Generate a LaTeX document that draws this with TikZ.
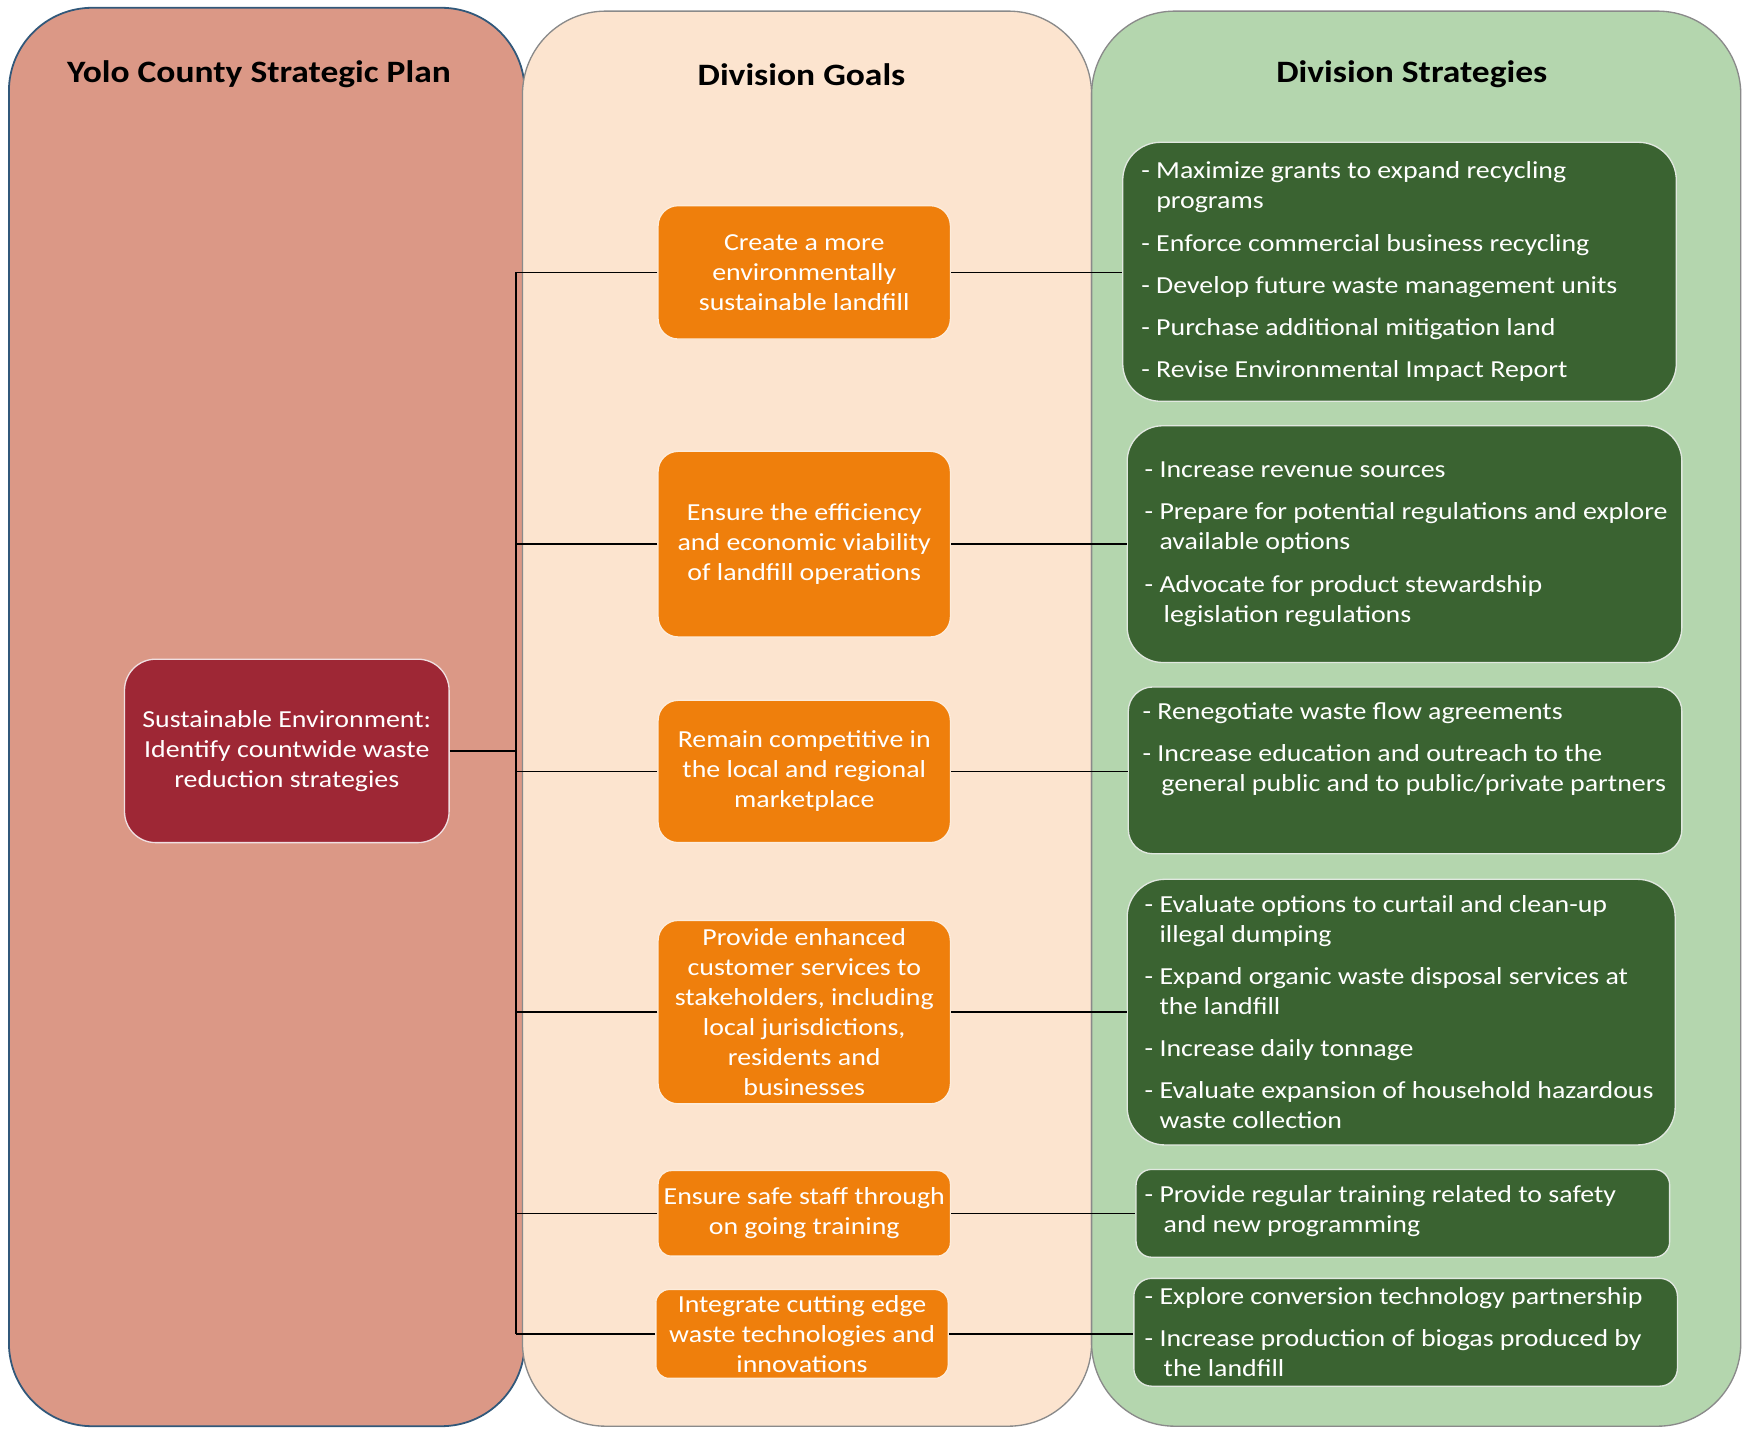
\documentclass[tikz,border=0pt]{standalone}
\usepackage{fontspec}
\setmainfont[FakeStretch=1.14]{Carlito}
\definecolor{leftc}{HTML}{DB9886}
\definecolor{leftline}{HTML}{31587A}
\definecolor{midc}{HTML}{FCE4CF}
\definecolor{rightc}{HTML}{B4D6AE}
\definecolor{colline}{HTML}{8A8A8A}
\definecolor{goalc}{HTML}{EF7F0C}
\definecolor{planc}{HTML}{9E2735}
\definecolor{stratc}{HTML}{3A6331}
\begin{document}
\begin{tikzpicture}[x=0.5pt,y=-0.5pt,
  col/.style={rounded corners=37.5pt, line width=0.6pt},
  head/.style={font=\fontsize{14}{16}\selectfont\bfseries, text=black, inner sep=0pt},
  goal/.style={fill=goalc, draw=white!85!goalc, line width=0.6pt, text=white, align=center,
    font=\fontsize{11}{13.5}\selectfont, inner sep=1pt, minimum width=131.5pt, rounded corners=9pt},
  plan/.style={fill=planc, draw=white!85!planc, line width=0.6pt, text=white, align=center,
    font=\fontsize{11}{13.5}\selectfont, inner sep=1pt, minimum width=146pt, minimum height=82.5pt, rounded corners=14pt},
  strat/.style={fill=stratc, draw=white!85!stratc, line width=0.6pt, inner sep=0pt},
  stext/.style={text=white, align=left, font=\fontsize{11}{13.5}\selectfont, inner sep=0pt, anchor=west},
  link/.style={draw=black, line width=0.7pt}]
\useasboundingbox (0,0) rectangle (1568,1285);
\fill[white] (0,0) rectangle (1568,1285);
% columns
\draw[col, fill=leftc, draw=leftline, line width=0.8pt] (8,7) rectangle (472,1283);
\draw[col, fill=midc, draw=colline] (470,10) rectangle (982,1283);
\draw[col, fill=rightc, draw=colline] (982,10) rectangle (1566,1283);
% headings
\node[head] (h1) at (233,67) {Yolo County Strategic Plan};
\node[head] (h2) at (721,67) {Division Goals};
\node[head] (h3) at (1270,67) {Division Strategies};
% plan
\node[plan] (p) at (258,675.5) {Sustainable Environment:\\Identify countwide waste\\reduction strategies};
% goals
\node[goal, minimum height=60pt] (g1) at (723.5,245) {Create a more\\environmentally\\sustainable landfill};
\node[goal, minimum height=83.5pt] (g2) at (723.5,489.5) {Ensure the efficiency\\and economic viability\\of landfill operations};
\node[goal, minimum height=64pt] (g3) at (723.5,694) {Remain competitive in\\the local and regional\\marketplace};
\node[goal, minimum height=82.5pt] (g4) at (723.5,910.5) {Provide enhanced\\customer services to\\stakeholders, including\\local jurisdictions,\\residents and\\businesses};
\node[goal, minimum height=38.5pt, rounded corners=6pt] (g5) at (723.5,1091.5) {Ensure safe staff through\\on going training};
\node[goal, minimum height=40pt, rounded corners=6pt] (g6) at (721.5,1200) {Integrate cutting edge\\waste technologies and\\innovations};
% strategies
\node[strat, minimum width=249pt, minimum height=116.5pt, rounded corners=17pt] (s1) at (1259,244.5) {};
\node[strat, minimum width=249.5pt, minimum height=106.5pt, rounded corners=16pt] (s2) at (1263.5,489.5) {};
\node[strat, minimum width=249pt, minimum height=75pt, rounded corners=11pt] (s3) at (1264,693) {};
\node[strat, minimum width=246.5pt, minimum height=119.5pt, rounded corners=17pt] (s4) at (1260.5,910.5) {};
\node[strat, minimum width=240pt, minimum height=39.5pt, rounded corners=7pt] (s5) at (1262,1091.5) {};
\node[strat, minimum width=244.5pt, minimum height=48.5pt, rounded corners=8pt] (s6) at (1264.5,1198.5) {};
\node[stext] (s1t) at ([xshift=8.5pt]s1.west) {- Maximize grants to expand recycling\\\hphantom{- }programs\\[5.5pt]- Enforce commercial business recycling\\[5.5pt]- Develop future waste management units\\[5.5pt]- Purchase additional mitigation land\\[5.5pt]- Revise Environmental Impact Report};
\node[stext] (s2t) at ([xshift=8pt]s2.west) {- Increase revenue sources\\[5.5pt]- Prepare for potential regulations and explore\\\hphantom{- }available options\\[5.5pt]- Advocate for product stewardship\\\hphantom{- }\,legislation regulations};
\node[stext] (s3t) at ([xshift=6.5pt,yshift=9.5pt]s3.west) {- Renegotiate waste flow agreements\\[5.5pt]- Increase education and outreach to the\\\hphantom{- }\,general public and to public/private partners};
\node[stext] (s4t) at ([xshift=8pt]s4.west) {- Evaluate options to curtail and clean-up\\\hphantom{- }illegal dumping\\[5.5pt]- Expand organic waste disposal services at\\\hphantom{- }the landfill\\[5.5pt]- Increase daily tonnage\\[5.5pt]- Evaluate expansion of household hazardous\\\hphantom{- }waste collection};
\node[stext] (s5t) at ([xshift=4pt,yshift=1pt]s5.west) {- Provide regular training related to safety\\\hphantom{- }\,and new programming};
\node[stext] (s6t) at ([xshift=5pt]s6.west) {- Explore conversion technology partnership\\[5.5pt]- Increase production of biogas produced by\\\hphantom{- }\,the landfill};
% connectors
\coordinate (tx) at (464,0);
\draw[link] (g1.west -| tx) -- (g6.west -| tx);
\draw[link] (p.east) -- (p.east -| tx);
\foreach \i in {1,...,6} {
  \draw[link] (g\i.west) -- (g\i.west -| tx);
  \draw[link] (g\i.east) -- (s\i.west |- g\i.east);
}
\end{tikzpicture}
\end{document}
